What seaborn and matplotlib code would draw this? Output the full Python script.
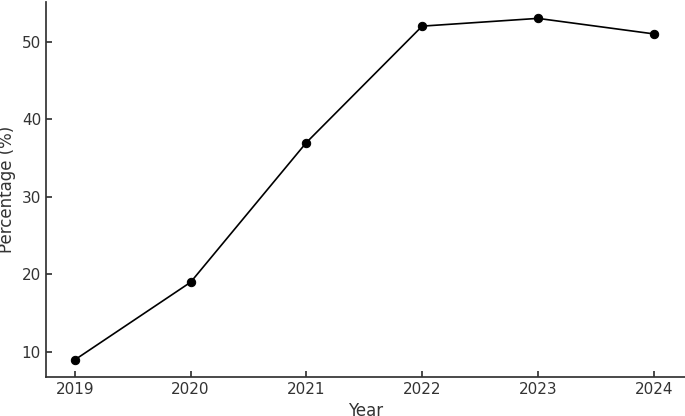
import matplotlib
matplotlib.use("Agg")
import matplotlib.pyplot as plt
import seaborn as sns
import pandas as pd

years = [2019, 2020, 2021, 2022, 2023, 2024]
percentages = [9, 19, 37, 52, 53, 51]

sns.set_theme(style="ticks")
plt.rcParams['font.family'] = ['DejaVu Sans']

df = pd.DataFrame({"Year": years, "Percentage (%)": percentages})

fig = plt.figure(figsize=(6.85, 4.16), dpi=100)
ax = fig.add_axes([0.067, 0.094, 0.933, 0.901])
sns.lineplot(data=df, x="Year", y="Percentage (%)", marker="o", color="black",
             markersize=6, linewidth=1.2, markeredgecolor="black", ax=ax)

ax.set_xlim(2018.75, 2024.27)
ax.set_ylim(6.8, 55.1)
ax.set_xticks(years)
ax.set_yticks([10, 20, 30, 40, 50])
ax.tick_params(direction="in", colors="#333333", labelsize=11, length=4)
ax.set_xlabel("Year", fontsize=12, color="#333333", labelpad=4)
ax.set_ylabel("Percentage (%)", fontsize=12, color="#333333")
for s in ["top", "right"]:
    ax.spines[s].set_visible(False)
for s in ["left", "bottom"]:
    ax.spines[s].set_color("#333333")

fig.savefig("out.png", dpi=100)
